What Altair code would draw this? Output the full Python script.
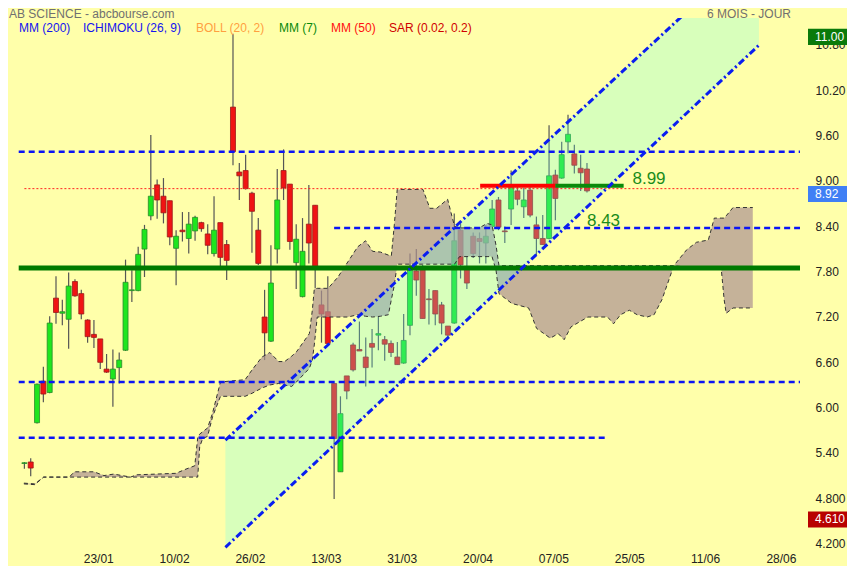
import altair as alt
import pandas as pd

# ---------------- data ----------------
# daily candles, trading-day index 0..89
opens = [5.31, 5.33, 5.85, 6.40, 6.25, 7.50, 7.30, 7.22, 7.72, 7.56,
         7.21, 7.02, 6.96, 6.56, 6.43, 6.58, 6.81, 7.60, 7.60, 8.15,
         8.59, 9.00, 8.85, 8.79, 8.16, 8.40, 8.29, 8.39, 8.50, 8.35,
         8.09, 8.50, 8.21, 10.03, 9.17, 9.19, 8.89, 8.40, 7.25, 6.93,
         8.15, 9.19, 9.01, 7.97, 7.52, 8.48, 8.73, 7.41, 7.32, 6.37,
         5.20, 6.47, 6.88, 6.82, 6.72, 6.90, 7.01, 6.95, 6.90, 6.72,
         6.64, 7.14, 7.86, 7.89, 7.49, 7.60, 7.41, 7.13, 7.17, 8.40,
         7.88, 8.32, 8.29, 8.23, 8.45, 8.80, 8.39, 8.68, 8.92, 8.71,
         8.93, 8.47, 8.29, 8.29, 9.13, 9.09, 9.57, 9.41, 9.22, 9.21]
highs = [5.33, 5.38, 6.37, 6.59, 7.26, 7.79, 7.48, 7.84, 7.75, 7.61,
         7.22, 7.21, 6.96, 6.76, 6.82, 6.78, 8.01, 7.87, 8.18, 8.47,
         9.66, 9.07, 9.09, 8.79, 8.40, 8.64, 8.64, 8.59, 8.51, 8.48,
         8.85, 8.50, 8.27, 11.00, 9.29, 9.40, 8.91, 8.56, 7.61, 8.20,
         9.21, 9.47, 9.01, 8.48, 8.56, 9.00, 8.73, 7.60, 7.79, 6.37,
         6.20, 6.47, 6.91, 7.19, 6.98, 7.09, 7.25, 7.00, 6.94, 6.92,
         7.29, 8.09, 8.15, 7.94, 7.62, 7.60, 7.45, 7.13, 8.62, 8.49,
         8.05, 8.37, 8.37, 8.47, 8.80, 8.84, 8.45, 9.19, 8.99, 8.96,
         8.97, 8.58, 8.60, 9.79, 9.20, 9.57, 9.93, 9.53, 9.40, 9.29]
lows = [5.24, 5.14, 5.84, 6.12, 6.24, 7.16, 7.14, 6.83, 7.52, 7.22,
        6.91, 6.84, 6.56, 6.51, 6.06, 6.37, 6.80, 7.45, 7.59, 7.78,
        8.53, 8.55, 8.49, 8.20, 7.67, 8.25, 8.09, 8.26, 8.38, 8.08,
        8.05, 7.92, 7.74, 9.26, 8.80, 8.94, 8.10, 7.94, 6.68, 6.92,
        7.96, 8.80, 8.14, 7.62, 7.51, 7.96, 7.63, 6.91, 6.90, 4.84,
        5.20, 6.16, 6.53, 6.80, 6.33, 6.58, 6.81, 6.67, 6.72, 6.62,
        6.63, 7.01, 7.53, 7.23, 7.15, 7.14, 7.02, 6.97, 7.16, 7.76,
        7.62, 8.03, 7.96, 7.96, 8.42, 8.40, 8.23, 8.47, 8.73, 8.56,
        8.57, 8.07, 8.21, 8.28, 8.53, 9.08, 9.42, 9.15, 8.92, 8.90]
closes = [5.32, 5.25, 6.36, 6.23, 7.17, 7.31, 7.32, 7.66, 7.53, 7.29,
          6.99, 6.98, 6.65, 6.52, 6.56, 6.68, 7.71, 7.61, 8.08, 8.41,
          8.85, 8.80, 8.63, 8.31, 8.32, 8.38, 8.48, 8.57, 8.42, 8.20,
          8.40, 8.04, 8.00, 9.44, 9.12, 8.95, 8.65, 7.96, 7.04, 7.70,
          8.80, 8.96, 8.25, 8.28, 8.12, 8.23, 7.88, 7.29, 6.90, 5.64,
          5.97, 6.27, 6.55, 6.80, 6.58, 6.85, 7.03, 6.89, 6.78, 6.62,
          6.94, 7.87, 7.74, 7.23, 7.48, 7.29, 7.17, 7.01, 8.26, 7.94,
          7.70, 8.09, 8.25, 8.32, 8.68, 8.44, 8.38, 8.97, 8.81, 8.80,
          8.60, 8.29, 8.21, 9.12, 8.82, 9.40, 9.67, 9.26, 9.16, 8.92]

# Ichimoku cloud outline (bar index, upper span, lower span)
cloud_i = [-0.08, 1.64, 3.05, 7.11, 7.89, 11.02, 12.58, 14.14, 16.80, 17.73,
           23.98, 25.39, 26.95, 27.42, 27.73, 28.20, 28.98, 29.77, 31.02, 34.92,
           36.02, 37.58, 38.83, 40.23, 41.17, 42.27, 43.05, 45.08, 45.55, 45.86,
           46.33, 48.05, 49.61, 51.17, 52.73, 53.98, 55.08, 56.33, 57.58, 58.05,
           58.52, 58.98, 63.05, 64.14, 65.23, 66.95, 68.05, 68.83, 71.95, 73.20,
           73.98, 74.61, 75.08, 77.11, 79.77, 81.02, 83.20, 84.45, 85.39, 86.48,
           89.14, 92.27, 93.20, 94.30, 95.70, 96.95, 98.52, 99.61, 100.86, 101.95,
           102.73, 104.77, 106.33, 108.20, 109.14, 110.23, 110.70, 111.02, 112.11, 115.23]
cloud_a = [5.05, 5.04, 5.13, 5.13, 5.20, 5.20, 5.15, 5.17, 5.13, 5.16,
           5.18, 5.23, 5.28, 5.65, 5.70, 5.73, 5.78, 5.98, 6.39, 6.42,
           6.55, 6.72, 6.78, 6.66, 6.66, 6.73, 6.79, 7.03, 7.34, 7.62,
           7.63, 7.63, 7.78, 7.98, 8.18, 8.26, 8.12, 8.11, 8.07, 8.06,
           8.47, 8.94, 8.94, 8.69, 8.69, 8.81, 8.45, 8.43, 8.43, 8.49,
           8.47, 8.20, 7.93, 7.93, 7.93, 7.93, 7.93, 7.93, 7.93, 7.93,
           7.93, 7.93, 7.93, 7.93, 7.93, 7.93, 7.93, 7.93, 7.93, 7.93,
           7.93, 8.14, 8.24, 8.27, 8.56, 8.56, 8.56, 8.59, 8.70, 8.70]
cloud_b = [5.04, 5.03, 5.13, 5.13, 5.13, 5.13, 5.13, 5.13, 5.13, 5.13,
           5.13, 5.13, 5.13, 5.13, 5.53, 5.64, 5.67, 5.93, 6.20, 6.20,
           6.24, 6.31, 6.35, 6.37, 6.35, 6.33, 6.39, 6.57, 6.68, 6.88,
           7.25, 7.25, 7.25, 7.25, 7.28, 7.26, 7.25, 7.26, 7.28, 7.48,
           7.67, 7.95, 7.95, 7.95, 7.95, 7.95, 7.95, 8.05, 8.05, 8.05,
           8.05, 7.87, 7.56, 7.43, 7.37, 7.10, 6.97, 7.03, 6.95, 7.12,
           7.25, 7.25, 7.16, 7.28, 7.34, 7.28, 7.25, 7.28, 7.48, 7.74,
           7.93, 7.91, 7.91, 7.91, 7.91, 7.90, 7.48, 7.30, 7.37, 7.37]

# rising channel (start / end index, lower and upper bound)
chan_i = [31.8, 116.2]
chan_lo = [4.20, 10.85]
chan_hi = [5.62, 12.18]

# horizontal levels
blue_y = [9.44, 8.43, 6.39, 5.65]
blue_from = [-0.9, 49.0, -0.9, -0.9]
blue_to = [122.7, 122.7, 122.7, 91.8]
last_level = 8.95
support_level = 7.90
res_level = 8.99
res_red = [72.1, 84.0]
res_green = [84.0, 94.8]

price_ticks = [4.2, 4.8, 5.4, 6.0, 6.6, 7.2, 7.8, 8.4, 9.0, 9.6, 10.2, 10.8]
date_ticks = [12, 24, 36, 48, 60, 72, 84, 96, 108, 120]
date_labels = ["23/01", "10/02", "26/02", "13/03", "31/03", "20/04",
               "07/05", "25/05", "11/06", "28/06"]

legend_labels = ["MM (200)", "ICHIMOKU (26, 9)", "BOLL (20, 2)", "MM (7)", "MM (50)", "SAR (0.02, 0.2)"]
legend_colors = ["#1414F0", "#1414F0", "#FFA040", "#0A8A0A", "#FF1010", "#D00000"]
legend_px = [7, 71, 184, 267, 319, 377]

box_values = [11.00, 8.92, 4.61]
box_texts = ["11.00", "8.92", "4.610"]
box_colors = ["#0A7A0A", "#3F7FF5", "#B80000"]

# ---------------- chart ----------------
FONT = "Liberation Sans"
xscale = alt.Scale(domain=[-1.17, 122.7], nice=False, zero=False)
yscale = alt.Scale(domain=[4.138, 11.21], nice=False, zero=False)
xaxis = alt.Axis(values=date_ticks, labelExpr=f"{date_labels}[round(datum.value/12)-1]",
                 title=None, grid=False, domain=False, ticks=False, labelPadding=1,
                 labelFontSize=12, labelColor="#222222", labelFont=FONT, labelOffset=-2)
yaxis = alt.Axis(orient="right", values=price_ticks,
                 labelExpr="datum.value < 5 ? format(datum.value, '.3f') : format(datum.value, '.2f')",
                 title=None, grid=False, domain=False, ticks=False, labelPadding=10,
                 labelFontSize=12, labelColor="#222222", labelFont=FONT, labelOffset=-4,
                 labelAlign="left")


def X(f):
    return alt.X(f"{f}:Q", scale=xscale, axis=xaxis)


def Y(f):
    return alt.Y(f"{f}:Q", scale=yscale, axis=yaxis)


df = pd.DataFrame({"i": list(range(len(opens))), "open": opens, "high": highs,
                   "low": lows, "close": closes})
df["up"] = df["close"] >= df["open"]

wicks = alt.Chart(df).mark_rule(color="#555555", strokeWidth=1.2).encode(
    x=X("i"), y=Y("low"), y2="high")
bodies = alt.Chart(df).mark_bar(size=5, strokeWidth=0.8).encode(
    x=X("i"), y=Y("open"), y2="close",
    fill=alt.condition("datum.up", alt.value("#1EE61E"), alt.value("#F01414")),
    stroke=alt.condition("datum.up", alt.value("#2A8A2A"), alt.value("#9A1A1A")))

cdf = pd.DataFrame({"i": cloud_i, "a": cloud_a, "b": cloud_b})
cloud = alt.Chart(cdf).mark_area(color="#AC9292", opacity=0.70).encode(
    x=X("i"), y=Y("a"), y2="b")
cloud_a_line = alt.Chart(cdf).mark_line(color="#333333", strokeWidth=1, strokeDash=[4, 3]).encode(
    x=X("i"), y=Y("a"))
cloud_b_line = alt.Chart(cdf).mark_line(color="#333333", strokeWidth=1, strokeDash=[4, 3]).encode(
    x=X("i"), y=Y("b"))

chdf = pd.DataFrame({"i": chan_i, "lo": chan_lo, "hi": chan_hi})
channel = alt.Chart(chdf).mark_area(color="#64FFF0", opacity=0.25, clip=True).encode(
    x=X("i"), y=Y("lo"), y2="hi")
chan_lo_line = alt.Chart(chdf).mark_line(color="#0A1EF0", strokeWidth=3, strokeDash=[7, 3, 2, 3], clip=True).encode(
    x=X("i"), y=Y("lo"))
chan_hi_line = alt.Chart(chdf).mark_line(color="#0A1EF0", strokeWidth=3, strokeDash=[7, 3, 2, 3], clip=True).encode(
    x=X("i"), y=Y("hi"))

bdf = pd.DataFrame({"y": blue_y, "x1": blue_from, "x2": blue_to})
blue_lines = alt.Chart(bdf).mark_rule(color="#0A14F5", strokeWidth=2.5, strokeDash=[6, 4]).encode(
    x=X("x1"), x2="x2", y=Y("y"))

ldf = pd.DataFrame({"y": [last_level], "x1": [0.0], "x2": [122.7]})
last_line = alt.Chart(ldf).mark_rule(color="#FF2020", strokeWidth=1, strokeDash=[2, 2]).encode(
    x=X("x1"), x2="x2", y=Y("y"))

sdf = pd.DataFrame({"y": [support_level], "x1": [-0.9], "x2": [122.7]})
support = alt.Chart(sdf).mark_rule(color="#007A00", strokeWidth=5).encode(
    x=X("x1"), x2="x2", y=Y("y"))

rdf = pd.DataFrame({"y": [res_level, res_level], "x1": [res_red[0], res_green[0]],
                    "x2": [res_red[1], res_green[1]], "c": ["#FF0000", "#0A8A0A"]})
res = alt.Chart(rdf).mark_rule(strokeWidth=4).encode(
    x=X("x1"), x2="x2", y=Y("y"), color=alt.Color("c:N", scale=None))

tdf = pd.DataFrame({"i": [96.2, 89.0], "y": [res_level, 8.43], "t": ["8.99", "8.43"]})
level_text = alt.Chart(tdf).mark_text(align="left", baseline="bottom", fontSize=17, font=FONT,
                                      color="#1A8C1A", dy=2).encode(
    x=X("i"), y=Y("y"), text="t:N")

boxdf = pd.DataFrame({"v": box_values, "t": box_texts, "c": box_colors})
boxdf["top"] = boxdf["v"] + 0.066
boxdf["bot"] = boxdf["v"] - 0.146
boxdf["mid"] = boxdf["v"] - 0.04
boxes = alt.Chart(boxdf).mark_rect().encode(
    x=alt.value(796), x2=alt.value(840), y=Y("top"), y2="bot",
    color=alt.Color("c:N", scale=None))
box_text = alt.Chart(boxdf).mark_text(align="left", baseline="middle", fontSize=12, font=FONT,
                                      color="white").encode(
    x=alt.value(803), y=Y("mid"), text="t:N")

one = pd.DataFrame({"a": [0]})
title_l = alt.Chart(one).mark_text(text="AB SCIENCE - abcbourse.com", align="left", baseline="middle",
                                   fontSize=12, font=FONT, color="#707070").encode(
    x=alt.value(-3), y=alt.value(-4))
title_r = alt.Chart(one).mark_text(text="6 MOIS - JOUR", align="right", baseline="middle",
                                   fontSize=12, font=FONT, color="#707070").encode(
    x=alt.value(779), y=alt.value(-4))
legend = [alt.Chart(one).mark_text(text=t, align="left", baseline="middle", fontSize=12,
                                   font=FONT, color=c).encode(x=alt.value(p), y=alt.value(10))
          for t, c, p in zip(legend_labels, legend_colors, legend_px)]

chart = alt.layer(
    wicks, bodies, cloud, channel, cloud_a_line, cloud_b_line,
    blue_lines, last_line, support, res, chan_lo_line, chan_hi_line,
    level_text, boxes, box_text, title_l, title_r, *legend
).properties(
    width=793, height=534,
    autosize=alt.AutoSizeParams(type="none"),
    padding={"left": 4, "top": 10, "right": 42, "bottom": 14},
    background="#FFFFAA",
).configure_view(stroke=None)

chart.save("out.html", embed_options={"renderer": "svg", "actions": False})
